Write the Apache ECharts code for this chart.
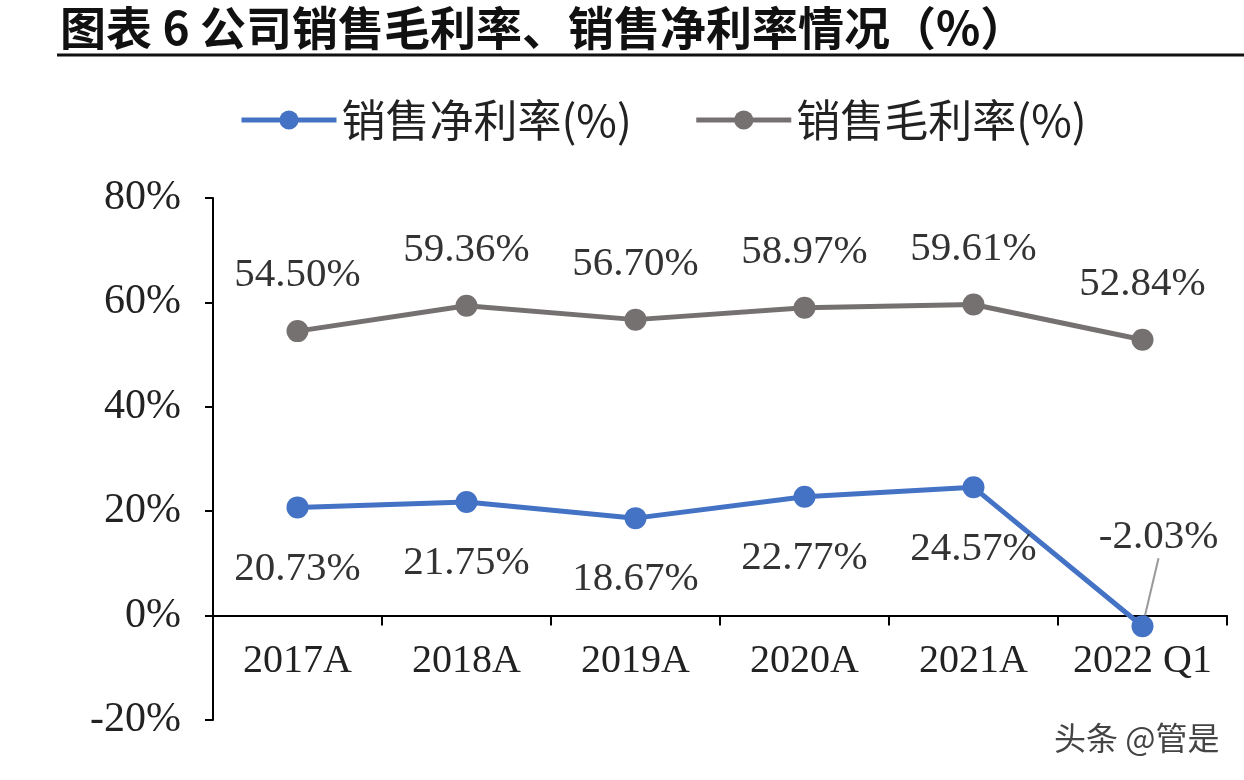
<!DOCTYPE html>
<html>
<head>
<meta charset="utf-8">
<script src="https://cdn.jsdelivr.net/npm/echarts@6/dist/echarts.min.js"></script>
<style>
  html, body { margin: 0; padding: 0; background: #fff; }
  #chart { width: 1244px; height: 780px; }
</style>
</head>
<body>
<div id="chart"></div>
<script>
var categories = ['2017A', '2018A', '2019A', '2020A', '2021A', '2022 Q1'];
var netMargin = [20.73, 21.75, 18.67, 22.77, 24.57, -2.03];
var grossMargin = [54.50, 59.36, 56.70, 58.97, 59.61, 52.84];

var chart = echarts.init(document.getElementById('chart'));
var serif = '"Liberation Serif", "Times New Roman", serif';
var cjk = '"Noto Sans CJK SC", sans-serif';

function pct(p) { return p.value.toFixed(2) + '%'; }

// 只有最后一个点（负值）带引导线，标签挪到上方
var netData = netMargin.map(function (v, i) {
    if (i === netMargin.length - 1) {
        return { value: v, labelLine: { show: true, lineStyle: { color: '#999', width: 2 } } };
    }
    return v;
});

option = {
    backgroundColor: '#fff',
    animation: false,
    title: {
        text: '图表 6 公司销售毛利率、销售净利率情况（%）',
        left: 55,
        top: 0,
        textStyle: { fontFamily: cjk, fontSize: 46, fontWeight: 'bold', color: '#111' }
    },
    legend: {
        top: 93,
        left: 234,
        itemWidth: 95,
        itemHeight: 24,
        itemGap: 62,
        lineStyle: { width: 5 },
        textStyle: { fontFamily: cjk, fontSize: 44, color: '#222' },
        data: ['销售净利率(%)', '销售毛利率(%)']
    },
    grid: { left: 213, right: 17, top: 198, bottom: 60 },
    xAxis: {
        type: 'category',
        data: categories,
        offset: -104.4,
        axisLine: { onZero: false, lineStyle: { color: '#000', width: 2 } },
        axisTick: { show: true, interval: 0, length: 10, lineStyle: { color: '#000', width: 2 } },
        axisLabel: { interval: 0, fontFamily: serif, fontSize: 40, color: '#222', margin: 26 }
    },
    yAxis: {
        type: 'value',
        min: -20,
        max: 80,
        interval: 20,
        splitLine: { show: false },
        axisLine: { show: true, lineStyle: { color: '#000', width: 2 } },
        axisTick: { show: true, length: 8, lineStyle: { color: '#000', width: 2 } },
        axisLabel: { fontFamily: serif, fontSize: 42, color: '#222', margin: 32, formatter: '{value}%' }
    },
    series: [
        {
            name: '销售净利率(%)',
            type: 'line',
            data: netData,
            color: '#4472C4',
            symbol: 'circle',
            symbolSize: 22,
            lineStyle: { width: 5 },
            label: {
                show: true,
                position: 'bottom',
                distance: 30,
                fontFamily: serif,
                fontSize: 41,
                color: '#333',
                formatter: pct
            },
            labelLayout: function (p) {
                if (p.dataIndex === 5) {
                    return { dx: 16, dy: -150 };
                }
            }
        },
        {
            name: '销售毛利率(%)',
            type: 'line',
            data: grossMargin,
            color: '#767171',
            symbol: 'circle',
            symbolSize: 22,
            lineStyle: { width: 5 },
            label: {
                show: true,
                position: 'top',
                distance: 24,
                fontFamily: serif,
                fontSize: 41,
                color: '#333',
                formatter: pct
            }
        }
    ],
    graphic: [
        {
            type: 'line',
            shape: { x1: 57, y1: 55, x2: 1244, y2: 55 },
            style: { stroke: '#111', lineWidth: 3 }
        },
        {
            type: 'text',
            left: 1054,
            top: 722,
            style: { text: '头条 @管是', fontFamily: cjk, fontSize: 32, fill: '#444' }
        }
    ]
};
chart.setOption(option);
</script>
</body>
</html>
